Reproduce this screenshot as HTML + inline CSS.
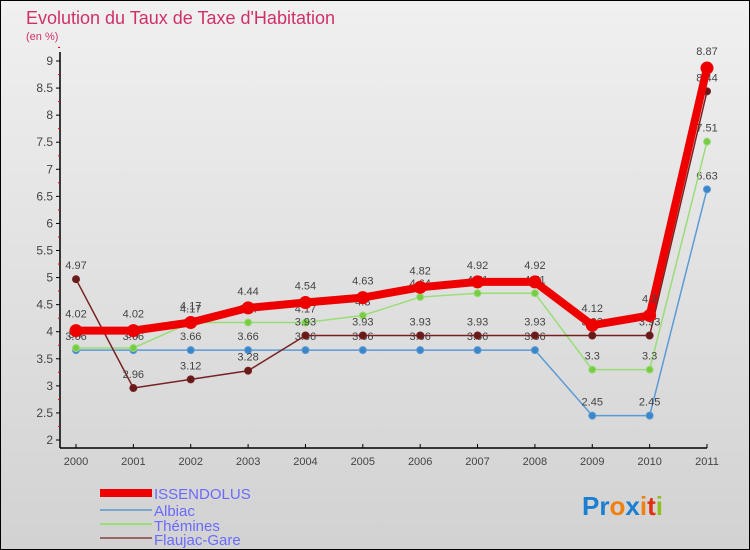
<!DOCTYPE html>
<html><head><meta charset="utf-8"><style>
body{margin:0;width:750px;height:550px;overflow:hidden}
svg{display:block;font-family:"Liberation Sans",sans-serif}
</style></head><body>
<svg id="c" width="750" height="550">
<defs><linearGradient id="bg" x1="0" y1="0" x2="0" y2="1"><stop offset="0" stop-color="#f0f0f0"/><stop offset="1" stop-color="#d2d2d2"/></linearGradient></defs>
<rect x="0.5" y="0.5" width="749" height="549" fill="url(#bg)" stroke="#000"/>
<text x="26" y="24" font-size="18" fill="#d0306a">Evolution du Taux de Taxe d'Habitation</text>
<text x="26" y="40" font-size="11" fill="#d0306a">(en %)</text>
<g id="axes"></g><g id="series"></g>
<g>
<rect x="100" y="489" width="52" height="8" fill="#e00"/>
<text x="154" y="499" font-size="15" fill="#6a6aff">ISSENDOLUS</text>
<rect x="100" y="509" width="52" height="2" fill="#7aa6cc"/>
<text x="154" y="516" font-size="15" fill="#6a6aff">Albiac</text>
<rect x="100" y="523" width="52" height="2" fill="#99dd77"/>
<text x="154" y="531" font-size="15" fill="#6a6aff">Thémines</text>
<rect x="100" y="537" width="52" height="2" fill="#996666"/>
<text x="154" y="545" font-size="15" fill="#6a6aff">Flaujac-Gare</text>
</g>
<text x="582" y="515" font-size="26" font-weight="bold"><tspan fill="#1a7fd0">Pr</tspan><tspan fill="#f08010">o</tspan><tspan fill="#1a7fd0">x</tspan><tspan fill="#f08010">i</tspan><tspan fill="#e03010">t</tspan><tspan fill="#90c020">i</tspan></text>
</svg>
<script>
const years=[2000,2001,2002,2003,2004,2005,2006,2007,2008,2009,2010,2011];
const issendolus=[4.02,4.02,4.17,4.44,4.54,4.63,4.82,4.92,4.92,4.12,4.3,8.87];
const albiac=[3.66,3.66,3.66,3.66,3.66,3.66,3.66,3.66,3.66,2.45,2.45,6.63];
const themines=[3.7,3.7,4.17,4.17,4.17,4.3,4.64,4.71,4.71,3.3,3.3,7.51];
const flaujac=[4.97,2.96,3.12,3.28,3.93,3.93,3.93,3.93,3.93,3.93,3.93,8.44];
const yTicks=[2,2.5,3,3.5,4,4.5,5,5.5,6,6.5,7,7.5,8,8.5,9];
const NS="http://www.w3.org/2000/svg";
const X=i=>76+i*(707-76)/(years.length-1);
const Y=v=>440-(v-2)*(440-61)/7;
function mk(t,a,p){const e=document.createElementNS(NS,t);for(const k in a)e.setAttribute(k,a[k]);p.appendChild(e);return e;}
const ax=document.getElementById('axes');
let l=mk('line',{x1:60,y1:52,x2:60,y2:448,stroke:'#000','stroke-width':1.5},ax);


l=mk('line',{x1:60,y1:448,x2:707,y2:448,stroke:'#000','stroke-width':1.5},ax);


yTicks.forEach(v=>{
 mk('line',{x1:56,y1:Y(v),x2:60,y2:Y(v),stroke:'#000'},ax);
 mk('line',{x1:58,y1:Y(v+0.25),x2:60,y2:Y(v+0.25),stroke:'#e00'},ax);
 const t=mk('text',{x:53,y:Y(v)+4,'font-size':12,fill:'#444','text-anchor':'end'},ax);t.textContent=v;
 
 
});
years.forEach((yr,i)=>{
 mk('line',{x1:X(i),y1:444,x2:X(i),y2:448,stroke:'#000'},ax);
 const t=mk('text',{x:X(i),y:465,'font-size':11,fill:'#444','text-anchor':'middle'},ax);t.textContent=yr;
 
 
});
const sg=document.getElementById('series');
function draw(name,vals,color,w,r,dot,lbl){
 const g=mk('g',{},sg);
 
 
 mk('polyline',{points:vals.map((v,i)=>X(i)+','+Y(v)).join(' '),fill:'none',stroke:color,'stroke-width':w,'stroke-linejoin':'round'},g);
 vals.forEach((v,i)=>{
  const c=mk('circle',{cx:X(i),cy:Y(v),r:r,fill:dot,stroke:color,'stroke-width':1},g);
  
  
  const t=mk('text',{x:X(i),y:Y(v)-lbl,'font-size':11,fill:'#444','text-anchor':'middle'},g);t.textContent=v;
 });
}
draw('albiac',albiac,'#5b9bd5',1.5,3.5,'#3a86c8',10);
draw('themines',themines,'#99dd77',1.5,3.5,'#77cc44',10);
draw('flaujac',flaujac,'#772222',1.5,3.5,'#661a1a',10);
draw('issendolus',issendolus,'#ee0000',8,6,'#ee0000',13);
</script>
</body></html>
